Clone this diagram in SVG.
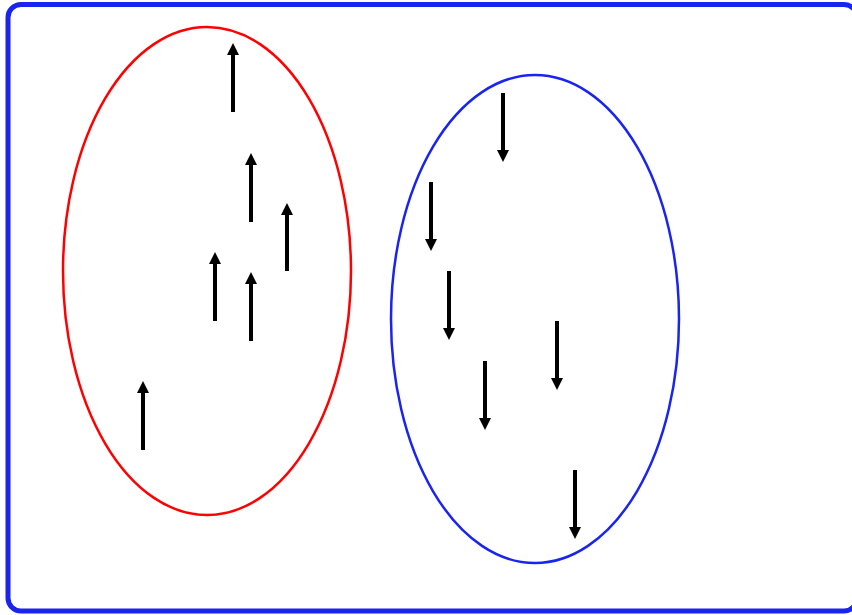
<svg xmlns="http://www.w3.org/2000/svg" width="852" height="615" viewBox="0 0 852 615">
<style>
.frame{fill:none;stroke:#1a24f0;stroke-width:5}
.set{fill:none;stroke-width:2.5}
.shaft{stroke:#000;stroke-width:4;fill:none}
</style>
<defs>
<polygon id="up" points="0,0 -6,12 6,12" fill="#000"/>
<polygon id="dn" points="0,0 -6,-12 6,-12" fill="#000"/>
</defs>
<rect width="852" height="615" fill="#fff"/>
<rect id="frame" class="frame" x="8" y="4.5" width="849" height="606.5" rx="13"/>
<g id="set-up"><ellipse class="set" cx="207" cy="271" rx="144" ry="244" stroke="#f00"/></g>
<g id="set-down"><ellipse class="set" cx="535" cy="319" rx="144" ry="244" stroke="#1a24f0"/></g>
<g id="connectors">
<g><line class="shaft" x1="233" y1="112" x2="233" y2="54"/><use href="#up" x="233" y="43"/></g>
<g><line class="shaft" x1="251" y1="222" x2="251" y2="164"/><use href="#up" x="251" y="153"/></g>
<g><line class="shaft" x1="287" y1="271" x2="287" y2="214"/><use href="#up" x="287" y="203"/></g>
<g><line class="shaft" x1="215" y1="321" x2="215" y2="263"/><use href="#up" x="215" y="252"/></g>
<g><line class="shaft" x1="251" y1="341" x2="251" y2="283"/><use href="#up" x="251" y="272"/></g>
<g><line class="shaft" x1="143" y1="450" x2="143" y2="392"/><use href="#up" x="143" y="381"/></g>
<g><line class="shaft" x1="503" y1="93" x2="503" y2="151"/><use href="#dn" x="503" y="162"/></g>
<g><line class="shaft" x1="431" y1="182" x2="431" y2="240"/><use href="#dn" x="431" y="251"/></g>
<g><line class="shaft" x1="449" y1="271" x2="449" y2="329"/><use href="#dn" x="449" y="340"/></g>
<g><line class="shaft" x1="557" y1="321" x2="557" y2="379"/><use href="#dn" x="557" y="390"/></g>
<g><line class="shaft" x1="485" y1="361" x2="485" y2="419"/><use href="#dn" x="485" y="430"/></g>
<g><line class="shaft" x1="575" y1="470" x2="575" y2="528"/><use href="#dn" x="575" y="539"/></g>
</g>
</svg>
